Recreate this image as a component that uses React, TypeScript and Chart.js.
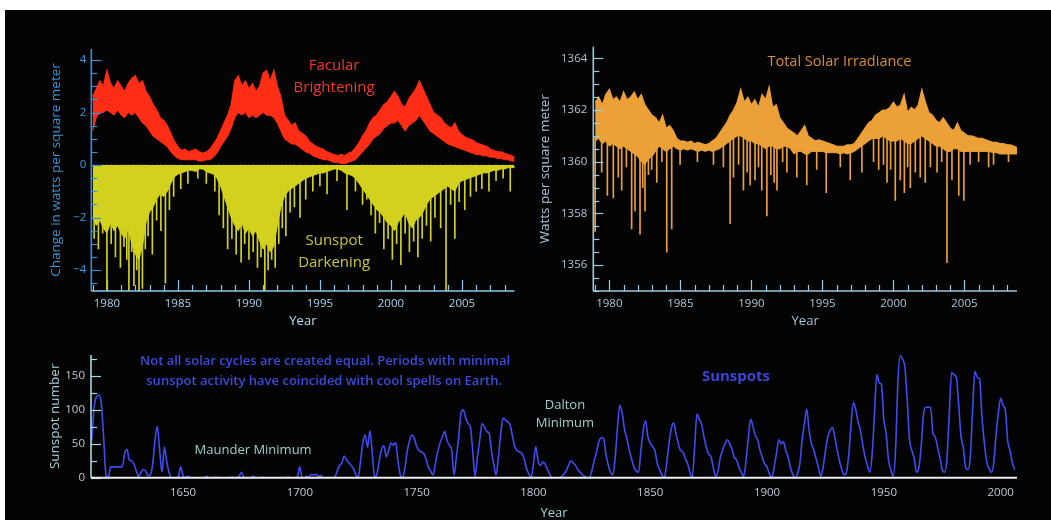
import React, { useEffect, useRef } from 'react';
import { Chart, registerables } from 'chart.js';

Chart.register(...registerables);

const FONT = "'Open Sans', 'DejaVu Sans', sans-serif";

// ---------- top panels: quarter-year samples starting 1979.0 ----------
const QUARTER_START = 1979;
const QUARTER_STEP = 0.25;

// Facular brightening (W/m^2): upper and lower edge of the red band
const facularHigh = [
  2.6, 2.9, 3.2, 3.0,
  3.6, 3.1, 2.9, 3.2,
  3.0, 2.8, 3.1, 3.3,
  3.4, 3.1, 3.2, 2.8,
  2.6, 2.3, 2.1, 1.8,
  1.7, 1.5, 1.2, 0.9,
  0.7, 0.55, 0.6, 0.5,
  0.55, 0.6, 0.5, 0.45,
  0.5, 0.6, 0.8, 1.0,
  1.3, 1.6, 1.9, 2.3,
  3.2, 3.4, 3.0, 3.2,
  2.9, 3.1, 2.8, 3.0,
  3.5, 3.6, 3.2, 3.6,
  3.0, 2.6, 1.9, 1.7,
  1.5, 1.6, 1.3, 1.2,
  1.1, 0.9, 0.8, 0.7,
  0.65, 0.6, 0.5, 0.45,
  0.4, 0.35, 0.4, 0.35,
  0.45, 0.5, 0.65, 0.85,
  1.1, 1.3, 1.6, 1.8,
  1.9, 2.1, 2.3, 2.4,
  2.6, 2.8, 2.6, 2.3,
  2.2, 2.5, 2.7, 2.9,
  3.2, 2.9, 2.6, 2.3,
  2.0, 1.9, 1.8, 1.6,
  1.5, 1.4, 1.6, 1.3,
  1.15, 1.05, 1.0, 0.95,
  0.85, 0.8, 0.75, 0.7,
  0.6, 0.55, 0.5, 0.5,
  0.45, 0.4, 0.35, 0.3,
];
const facularLow = [
  1.3, 1.8, 2.0, 2.0,
  2.1, 2.0, 1.9, 2.1,
  1.9, 1.8, 2.0, 1.9,
  2.0, 1.8, 1.6, 1.5,
  1.3, 1.1, 1.0, 0.9,
  0.8, 0.7, 0.5, 0.35,
  0.25, 0.2, 0.2, 0.2,
  0.2, 0.2, 0.15, 0.15,
  0.2, 0.2, 0.3, 0.45,
  0.7, 0.9, 1.1, 1.4,
  1.8, 2.0, 1.9, 2.0,
  1.8, 1.9, 1.8, 1.9,
  2.0, 1.9, 1.9, 1.8,
  1.6, 1.3, 1.0, 0.9,
  0.8, 0.8, 0.7, 0.6,
  0.5, 0.45, 0.35, 0.3,
  0.25, 0.2, 0.2, 0.15,
  0.1, 0.1, 0.05, 0.05,
  0.1, 0.15, 0.2, 0.35,
  0.5, 0.65, 0.8, 1.0,
  1.1, 1.2, 1.4, 1.5,
  1.6, 1.6, 1.7, 1.5,
  1.3, 1.5, 1.6, 1.7,
  1.9, 1.7, 1.5, 1.3,
  1.2, 1.1, 1.0, 0.9,
  0.8, 0.75, 0.7, 0.65,
  0.6, 0.55, 0.5, 0.45,
  0.4, 0.4, 0.35, 0.35,
  0.3, 0.3, 0.25, 0.25,
  0.2, 0.2, 0.15, 0.15,
];
// Sunspot darkening (W/m^2): depth of the dense yellow body
const darkeningBody = [
  -2.0, -2.3, -2.1, -2.4,
  -2.6, -2.2, -2.5, -2.3,
  -2.6, -2.8, -2.4, -3.0,
  -3.4, -3.6, -3.1, -2.2,
  -1.8, -1.6, -1.3, -1.1,
  -1.2, -1.0, -0.7, -0.45,
  -0.35, -0.3, -0.25, -0.2,
  -0.2, -0.25, -0.15, -0.15,
  -0.25, -0.3, -0.35, -0.5,
  -0.8, -1.2, -1.6, -2.0,
  -2.3, -2.5, -2.2, -2.6,
  -2.4, -2.7, -2.5, -2.9,
  -3.2, -3.0, -3.3, -3.1,
  -2.3, -1.6, -1.2, -1.0,
  -0.9, -0.8, -0.7, -0.6,
  -0.5, -0.45, -0.4, -0.35,
  -0.3, -0.3, -0.25, -0.2,
  -0.15, -0.15, -0.2, -0.3,
  -0.35, -0.4, -0.5, -0.7,
  -0.9, -1.1, -1.3, -1.5,
  -1.7, -1.8, -2.0, -2.2,
  -2.3, -2.5, -2.2, -2.0,
  -1.8, -2.2, -2.4, -2.1,
  -2.0, -1.8, -1.5, -1.3,
  -1.2, -1.1, -1.0, -0.9,
  -0.8, -0.9, -1.0, -0.7,
  -0.6, -0.55, -0.5, -0.45,
  -0.4, -0.35, -0.3, -0.3,
  -0.25, -0.2, -0.2, -0.15,
  -0.15, -0.1, -0.1, -0.1,
];
// Deep individual sunspot-darkening spikes
const darkSpikeYears = [
  1979.1, 1979.4, 1979.7, 1980.0, 1980.3, 1980.6, 1980.95, 1981.2, 1981.4, 1981.55,
  1981.75, 1981.9, 1982.1, 1982.26, 1982.5, 1982.7, 1982.9, 1983.2, 1983.5, 1983.8,
  1984.12, 1984.4, 1984.7, 1985.2, 1985.7, 1986.4, 1987.0, 1987.6, 1987.9, 1988.2,
  1988.5, 1988.8, 1989.1, 1989.45, 1989.7, 1990.0, 1990.3, 1990.6, 1990.85, 1991.12,
  1991.35, 1991.6, 1991.85, 1992.1, 1992.35, 1992.6, 1992.9, 1993.2, 1993.6, 1994.0,
  1994.5, 1995.0, 1995.5, 1996.2, 1996.9, 1997.5, 1998.0, 1998.3, 1998.6, 1998.9,
  1999.2, 1999.5, 1999.8, 2000.1, 2000.4, 2000.7, 2001.0, 2001.3, 2001.6, 2001.9,
  2002.2, 2002.5, 2002.8, 2003.1, 2003.5, 2003.88, 2004.2, 2004.5, 2004.8, 2005.2,
  2005.6, 2006.0, 2006.4, 2006.9, 2007.4, 2007.9, 2008.4,
];
const darkSpikeValues = [
  -2.8, -3.2, -2.6, -4.8, -3.0, -3.5, -3.9, -3.1, -3.6, -4.8,
  -3.3, -4.6, -4.0, -4.8, -4.7, -3.2, -2.7, -3.4, -2.1, -2.5,
  -4.5, -1.7, -1.2, -0.9, -0.7, -0.5, -0.7, -1.0, -1.9, -2.4,
  -3.2, -2.8, -3.4, -3.7, -3.0, -3.6, -3.3, -3.9, -3.5, -4.9,
  -4.0, -3.6, -3.9, -3.0, -2.4, -2.7, -1.8, -1.6, -2.0, -1.3,
  -1.0, -0.8, -1.1, -0.6, -1.7, -1.0, -1.5, -1.3, -1.9, -2.6,
  -2.2, -3.2, -2.8, -3.6, -3.0, -3.8, -2.6, -3.3, -2.9, -3.5,
  -2.8, -2.3, -2.9, -2.0, -2.4, -4.9, -1.5, -2.8, -1.4, -1.7,
  -1.2, -1.0, -0.9, -1.0, -0.6, -0.5, -1.0,
];

// Total solar irradiance (W/m^2): upper and lower edge of the orange band
const tsiHigh = [
  1362.3, 1362.5, 1362.2, 1362.6,
  1362.8, 1362.4, 1362.5, 1362.3,
  1362.7, 1362.4, 1362.5, 1362.7,
  1362.4, 1362.6, 1362.2, 1362.0,
  1361.8, 1361.7, 1361.5, 1361.8,
  1361.3, 1361.4, 1361.2, 1360.9,
  1360.8, 1360.8, 1360.75, 1360.8,
  1360.7, 1360.75, 1360.7, 1360.65,
  1360.7, 1360.8, 1360.9, 1361.1,
  1361.3, 1361.5, 1361.8, 1362.0,
  1362.3, 1362.8, 1362.3, 1362.5,
  1362.2, 1362.4, 1362.1, 1362.6,
  1362.4, 1362.9, 1362.1, 1362.2,
  1361.7, 1361.5, 1361.3, 1361.2,
  1361.1, 1361.0, 1361.2, 1361.4,
  1361.0, 1360.9, 1360.8, 1360.85,
  1360.8, 1360.75, 1360.7, 1360.65,
  1360.6, 1360.6, 1360.6, 1360.65,
  1360.65, 1360.7, 1360.9, 1361.1,
  1361.3, 1361.5, 1361.6, 1361.8,
  1361.9, 1362.0, 1362.0, 1362.1,
  1362.3, 1362.1, 1362.2, 1362.6,
  1361.9, 1362.1, 1362.0, 1362.2,
  1362.8, 1362.3, 1361.9, 1361.8,
  1361.6, 1361.5, 1361.7, 1361.5,
  1361.3, 1361.2, 1361.5, 1361.2,
  1361.1, 1361.0, 1361.0, 1360.95,
  1360.9, 1360.9, 1360.85, 1360.8,
  1360.75, 1360.75, 1360.7, 1360.7,
  1360.65, 1360.65, 1360.6, 1360.55,
];
const tsiLow = [
  1360.8, 1360.9, 1360.7, 1360.8,
  1360.6, 1360.7, 1360.6, 1360.5,
  1360.6, 1360.5, 1360.4, 1360.3,
  1360.2, 1360.0, 1359.9, 1360.1,
  1360.2, 1360.4, 1360.6, 1360.5,
  1360.4, 1360.5, 1360.6, 1360.5,
  1360.45, 1360.5, 1360.45, 1360.5,
  1360.45, 1360.4, 1360.45, 1360.4,
  1360.45, 1360.4, 1360.45, 1360.5,
  1360.6, 1360.7, 1360.8, 1360.9,
  1361.0, 1361.0, 1360.9, 1360.8,
  1360.8, 1360.7, 1360.7, 1360.6,
  1360.5, 1360.6, 1360.6, 1360.5,
  1360.5, 1360.6, 1360.6, 1360.5,
  1360.3, 1360.4, 1360.4, 1360.3,
  1360.3, 1360.4, 1360.4, 1360.4,
  1360.4, 1360.35, 1360.35, 1360.35,
  1360.35, 1360.3, 1360.35, 1360.3,
  1360.35, 1360.4, 1360.5, 1360.6,
  1360.7, 1360.8, 1360.9, 1360.9,
  1360.9, 1361.0, 1360.9, 1360.8,
  1360.8, 1360.8, 1360.9, 1360.8,
  1360.7, 1360.7, 1360.8, 1360.9,
  1361.0, 1360.9, 1360.8, 1360.7,
  1360.6, 1360.6, 1360.5, 1360.4,
  1360.4, 1360.5, 1360.5, 1360.4,
  1360.4, 1360.4, 1360.4, 1360.4,
  1360.4, 1360.4, 1360.4, 1360.4,
  1360.35, 1360.35, 1360.3, 1360.3,
  1360.3, 1360.3, 1360.3, 1360.3,
];
// Downward irradiance dips (each hangs from the band's lower edge)
const tsiSpikeYears = [
  1979.0, 1979.46, 1979.86, 1980.28, 1980.63, 1980.87, 1981.2, 1981.57, 1981.81, 1982.16,
  1982.35, 1982.51, 1982.75, 1982.98, 1983.34, 1983.7, 1984.04, 1984.39, 1984.98, 1986.2,
  1987.33, 1988.03, 1988.5, 1988.74, 1989.1, 1989.44, 1989.7, 1989.91, 1990.26, 1990.5,
  1990.73, 1991.09, 1991.37, 1991.6, 1991.8, 1992.2, 1992.5, 1993.2, 1993.9, 1994.6,
  1995.27, 1996.26, 1996.96, 1997.78, 1998.6, 1998.96, 1999.3, 1999.55, 1999.8, 2000.13,
  2000.48, 2000.77, 2001.0, 2001.19, 2001.54, 2001.89, 2002.24, 2002.6, 2003.07, 2003.4,
  2003.77, 2004.12, 2004.6, 2004.96, 2005.4, 2006.0, 2006.7, 2007.05, 2008.1,
];
const tsiSpikeValues = [
  1357.3, 1359.6, 1358.7, 1358.6, 1359.4, 1358.9, 1359.8, 1357.4, 1358.1, 1357.2,
  1359.0, 1358.1, 1359.5, 1359.7, 1359.2, 1360.0, 1356.5, 1357.4, 1359.9, 1360.0,
  1359.9, 1359.8, 1357.6, 1359.4, 1359.9, 1358.9, 1359.6, 1359.1, 1359.3, 1359.8,
  1358.9, 1357.9, 1359.5, 1359.2, 1358.9, 1360.0, 1359.6, 1359.4, 1359.1, 1359.7,
  1358.8, 1359.8, 1359.3, 1359.6, 1360.0, 1359.7, 1359.9, 1359.2, 1359.7, 1358.5,
  1359.3, 1358.8, 1359.8, 1359.0, 1359.6, 1359.4, 1359.2, 1359.8, 1359.6, 1360.0,
  1356.1, 1359.3, 1358.7, 1358.5, 1359.9, 1360.0, 1359.8, 1359.9, 1360.0,
];

// ---------- bottom panel: yearly sunspot number from 1610 ----------
const SUNSPOT_START = 1610;
const sunspotNumbers = [
  30, 60, 105, 120, 122, 110, 60, 5, 0, 16, // 1610s
  16, 16, 16, 16, 16, 35, 42, 26, 25, 20, // 1620s
  10, 2, 8, 12, 10, 3, 4, 20, 55, 76, // 1630s
  40, 8, 45, 24, 8, 0, 0, 0, 2, 16, // 1640s
  3, 0, 2, 0, 0, 0, 0, 0, 0, 0, // 1650s
  2, 0, 0, 0, 1, 0, 0, 0, 0, 0, // 1660s
  0, 1, 0, 0, 2, 8, 1, 0, 0, 0, // 1670s
  2, 0, 0, 0, 1, 0, 0, 0, 0, 0, // 1680s
  0, 0, 0, 0, 0, 1, 0, 0, 0, 2, // 1690s
  16, 0, 0, 2, 1, 5, 4, 5, 2, 3, // 1700s
  0, 0, 0, 0, 0, 1, 10, 18, 22, 32, // 1710s
  26, 22, 18, 13, 4, 1, 25, 52, 63, 45, // 1720s
  69, 37, 1, 5, 25, 42, 47, 31, 40, 51, // 1730s
  48, 52, 25, 4, 0, 15, 40, 55, 63, 58, // 1740s
  46, 40, 38, 36, 28, 16, 10, 4, 20, 38, // 1750s
  51, 60, 68, 55, 48, 41, 4, 30, 60, 95, // 1760s
  100, 88, 80, 75, 40, 2, 30, 55, 80, 75, // 1770s
  68, 66, 40, 20, 4, 30, 65, 88, 85, 82, // 1780s
  78, 62, 46, 40, 38, 36, 28, 14, 6, 0, // 1790s
  20, 46, 25, 18, 23, 20, 12, 5, 0, 0, // 1800s
  0, 0, 1, 5, 10, 18, 25, 22, 18, 12, // 1810s
  8, 4, 2, 0, 0, 10, 25, 38, 53, 59, // 1820s
  58, 35, 19, 8, 4, 30, 75, 107, 95, 71, // 1830s
  58, 41, 28, 16, 10, 8, 40, 70, 84, 60, // 1840s
  51, 46, 40, 21, 12, 4, 0, 20, 50, 72, // 1850s
  81, 65, 51, 40, 38, 28, 21, 8, 0, 45, // 1860s
  94, 86, 79, 60, 45, 35, 31, 15, 2, 10, // 1870s
  30, 41, 50, 56, 50, 42, 30, 26, 15, 8, // 1880s
  2, 25, 60, 86, 75, 62, 56, 40, 30, 20, // 1890s
  16, 6, 0, 15, 35, 56, 50, 53, 40, 31, // 1900s
  15, 5, 0, 5, 20, 55, 80, 101, 70, 50, // 1910s
  41, 28, 15, 2, 15, 40, 60, 70, 74, 60, // 1920s
  41, 25, 12, 4, 8, 35, 80, 111, 100, 82, // 1930s
  69, 48, 30, 18, 8, 35, 95, 152, 140, 137, // 1940s
  85, 65, 26, 12, 2, 40, 140, 180, 175, 163, // 1950s
  115, 56, 40, 28, 8, 15, 47, 95, 104, 104, // 1960s
  104, 66, 60, 45, 30, 12, 8, 28, 95, 155, // 1970s
  152, 148, 110, 62, 45, 15, 12, 30, 100, 157, // 1980s
  148, 145, 90, 52, 24, 14, 8, 20, 62, 95, // 1990s
  117, 107, 100, 55, 40, 22, 12, // 2000s
];

// ---------- axis ticks ----------
const topXTicks = [1980, 1985, 1990, 1995, 2000, 2005];
const leftYTicks = [-4, -2, 0, 2, 4];
const rightYTicks = [1356, 1358, 1360, 1362, 1364];
const bottomXTicks = [1650, 1700, 1750, 1800, 1850, 1900, 1950, 2000];
const bottomYTicks = [0, 50, 100, 150];

// ---------- text annotations (anchored in data coordinates) ----------
type Note = { text: string; x: number; y: number; color: string; font: string };
const RED_TEXT = '#f03a22';
const YELLOW_TEXT = '#c9c63a';
const leftNotes: Note[] = [
  { text: 'Facular', x: 1996.0, y: 3.77, color: RED_TEXT, font: `15px ${FONT}` },
  { text: 'Brightening', x: 1996.0, y: 2.93, color: RED_TEXT, font: `15px ${FONT}` },
  { text: 'Sunspot', x: 1996.0, y: -2.9, color: YELLOW_TEXT, font: `15px ${FONT}` },
  { text: 'Darkening', x: 1996.0, y: -3.73, color: YELLOW_TEXT, font: `15px ${FONT}` },
];
const rightNotes: Note[] = [
  { text: 'Total Solar Irradiance', x: 1996.2, y: 1363.86, color: '#d98e35', font: `14.5px ${FONT}` },
];
const bottomNotes: Note[] = [
  { text: 'Not all solar cycles are created equal. Periods with minimal', x: 1710.8, y: 171, color: '#3b4bdc', font: `600 13px ${FONT}` },
  { text: 'sunspot activity have coincided with cool spells on Earth.', x: 1710.4, y: 141.6, color: '#3b4bdc', font: `600 13px ${FONT}` },
  { text: 'Maunder Minimum', x: 1680, y: 41, color: '#9ccfd0', font: `13px ${FONT}` },
  { text: 'Dalton', x: 1813.5, y: 106.6, color: '#9ccfd0', font: `13px ${FONT}` },
  { text: 'Minimum', x: 1813.5, y: 79.6, color: '#9ccfd0', font: `13px ${FONT}` },
  { text: 'Sunspots', x: 1886.7, y: 148.5, color: '#3a46d8', font: `bold 15px ${FONT}` },
];

const RED = '#ff2d16';
const YELLOW = '#d2d21e';
const ORANGE = '#eca038';
const BLUE_LINE = '#3f4cf2';

type Decor = {
  yColor: string;
  xColor: string;
  yWidth: number;
  xWidth: number;
  yMinorStep: number;
  yMajorEvery: number;
  xMinorStep: number; // 0 = no x ticks
  xMajorEvery: number;
  notes: Note[];
};

const isMultiple = (v: number, m: number) => Math.abs(v / m - Math.round(v / m)) < 1e-6;

function makeDecor(d: Decor) {
  return {
    id: 'decor',
    afterDraw(chart: any) {
      const { ctx, chartArea: a, scales } = chart;
      const xs = scales.x;
      const ys = scales.y;
      ctx.save();
      // y axis line + inward ticks
      ctx.strokeStyle = d.yColor;
      ctx.lineWidth = d.yWidth;
      ctx.beginPath();
      ctx.moveTo(a.left, a.top);
      ctx.lineTo(a.left, a.bottom);
      ctx.stroke();
      ctx.lineWidth = 1.2;
      const y0 = Math.ceil(ys.min / d.yMinorStep - 1e-9) * d.yMinorStep;
      for (let v = y0; v <= ys.max + 1e-9; v += d.yMinorStep) {
        const py = Math.round(ys.getPixelForValue(v)) + 0.5;
        const len = isMultiple(v, d.yMajorEvery) ? 10 : 6;
        ctx.beginPath();
        ctx.moveTo(a.left, py);
        ctx.lineTo(a.left + len, py);
        ctx.stroke();
      }
      // x axis line + inward ticks
      ctx.strokeStyle = d.xColor;
      ctx.lineWidth = d.xWidth;
      ctx.beginPath();
      ctx.moveTo(a.left, a.bottom);
      ctx.lineTo(a.right, a.bottom);
      ctx.stroke();
      if (d.xMinorStep > 0) {
        ctx.lineWidth = 1.2;
        const x0 = Math.ceil(xs.min / d.xMinorStep - 1e-9) * d.xMinorStep;
        for (let v = x0; v <= xs.max + 1e-9; v += d.xMinorStep) {
          const px = Math.round(xs.getPixelForValue(v)) + 0.5;
          const len = isMultiple(v, d.xMajorEvery) ? 11 : 6;
          ctx.beginPath();
          ctx.moveTo(px, a.bottom);
          ctx.lineTo(px, a.bottom - len);
          ctx.stroke();
        }
      }
      // annotations
      ctx.textAlign = 'center';
      ctx.textBaseline = 'middle';
      for (const n of d.notes) {
        ctx.font = n.font;
        ctx.fillStyle = n.color;
        ctx.fillText(n.text, xs.getPixelForValue(n.x), ys.getPixelForValue(n.y));
      }
      ctx.restore();
    },
  };
}

type AxisOpts = {
  xMin: number; xMax: number; yMin: number; yMax: number;
  xTicks: number[]; yTicks: number[];
  yTitle: string; yWidth: number; xHeight: number; xPad: number; yPad: number;
  xTickColor: string; yTickColor: string; xTitleColor: string; yTitleColor: string;
  yFmt: (v: number) => string;
};

function axes(o: AxisOpts) {
  return {
    x: {
      type: 'linear', min: o.xMin, max: o.xMax, offset: false,
      grid: { display: false, drawTicks: false },
      border: { display: false },
      afterBuildTicks: (s: any) => { s.ticks = o.xTicks.map((v) => ({ value: v })); },
      afterFit: (s: any) => { s.height = o.xHeight; },
      ticks: {
        autoSkip: false, maxRotation: 0, minRotation: 0, padding: o.xPad,
        color: o.xTickColor, font: { family: FONT, size: 11.5 },
        callback: (v: any) => String(v),
      },
      title: { display: true, text: 'Year', color: o.xTitleColor, font: { family: FONT, size: 13 }, padding: 0 },
    },
    y: {
      type: 'linear', min: o.yMin, max: o.yMax,
      grid: { display: false, drawTicks: false },
      border: { display: false },
      afterBuildTicks: (s: any) => { s.ticks = o.yTicks.map((v) => ({ value: v })); },
      afterFit: (s: any) => { s.width = o.yWidth; },
      ticks: {
        autoSkip: false, padding: o.yPad,
        color: o.yTickColor, font: { family: FONT, size: 11.5 },
        callback: (v: any) => o.yFmt(Number(v)),
      },
      title: { display: true, text: o.yTitle, color: o.yTitleColor, font: { family: FONT, size: 13.5 }, padding: 0 },
    },
  };
}

const quarterYears = facularHigh.map((_, i) => QUARTER_START + i * QUARTER_STEP);
const onQuarters = (vals: number[]) => vals.map((y, i) => ({ x: quarterYears[i], y }));
const sunspotYears = sunspotNumbers.map((_, i) => SUNSPOT_START + i);
// lower edge of the TSI band at the quarter nearest a given year
const tsiLowAt = (year: number) => {
  const i = Math.min(tsiLow.length - 1, Math.max(0, Math.round((year - QUARTER_START) / QUARTER_STEP)));
  return tsiLow[i];
};

const common = {
  responsive: false,
  animation: false,
  devicePixelRatio: 1,
  events: [],
  plugins: { legend: { display: false }, tooltip: { enabled: false } },
};

function leftConfig(): any {
  return {
    type: 'line',
    data: {
      datasets: [
        { type: 'line', data: onQuarters(facularHigh), borderColor: RED, backgroundColor: RED, borderWidth: 1.2, fill: '+1', pointRadius: 0, tension: 0 },
        { type: 'line', data: onQuarters(facularLow), borderColor: RED, borderWidth: 1, fill: false, pointRadius: 0, tension: 0 },
        { type: 'line', data: onQuarters(darkeningBody), borderColor: YELLOW, backgroundColor: YELLOW, borderWidth: 1, fill: 'origin', pointRadius: 0, tension: 0 },
        {
          type: 'bar',
          data: darkSpikeYears.map((x, i) => ({ x, y: [0, darkSpikeValues[i]] })),
          backgroundColor: YELLOW, borderWidth: 0, barThickness: 1, grouped: false,
        },
      ],
    },
    options: {
      ...common,
      layout: { padding: { left: 0, top: 19, right: 5.5, bottom: 0 } },
      scales: axes({
        xMin: 1978.9, xMax: 2008.7, yMin: -4.8, yMax: 4.42,
        xTicks: topXTicks, yTicks: leftYTicks,
        yTitle: 'Change in watts per square meter', yWidth: 43.3, xHeight: 38, xPad: 6, yPad: 5,
        xTickColor: '#a9d6ef', yTickColor: '#3d9be6', xTitleColor: '#b8dcef', yTitleColor: '#3a95d6',
        yFmt: (v) => (v < 0 ? '\u2212' + Math.abs(v) : String(v)),
      }),
    },
    plugins: [makeDecor({
      yColor: '#3a8fd8', xColor: '#8cc8ec', yWidth: 1.6, xWidth: 1.6,
      yMinorStep: 0.5, yMajorEvery: 2, xMinorStep: 1, xMajorEvery: 5, notes: leftNotes,
    })],
  };
}

function rightConfig(): any {
  return {
    type: 'line',
    data: {
      datasets: [
        { type: 'line', data: onQuarters(tsiHigh), borderColor: ORANGE, backgroundColor: ORANGE, borderWidth: 1.2, fill: '+1', pointRadius: 0, tension: 0 },
        { type: 'line', data: onQuarters(tsiLow), borderColor: ORANGE, borderWidth: 1, fill: false, pointRadius: 0, tension: 0 },
        {
          type: 'bar',
          data: tsiSpikeYears.map((x, i) => ({ x, y: [tsiSpikeValues[i], tsiLowAt(x) + 0.15] })),
          backgroundColor: ORANGE, borderWidth: 0, barThickness: 1, grouped: false,
        },
      ],
    },
    options: {
      ...common,
      layout: { padding: { left: 0, top: 16.7, right: 5, bottom: 0 } },
      scales: axes({
        xMin: 1978.87, xMax: 2008.7, yMin: 1355.0, yMax: 1364.45,
        xTicks: topXTicks, yTicks: rightYTicks,
        yTitle: 'Watts per square meter', yWidth: 56.3, xHeight: 38, xPad: 6, yPad: 6,
        xTickColor: '#aec6d8', yTickColor: '#aec6d8', xTitleColor: '#a8c6da', yTitleColor: '#a8c6da',
        yFmt: (v) => String(v),
      }),
    },
    plugins: [makeDecor({
      yColor: '#9cc8e0', xColor: '#9cc8e0', yWidth: 1.6, xWidth: 1.6,
      yMinorStep: 0.5, yMajorEvery: 2, xMinorStep: 1, xMajorEvery: 5, notes: rightNotes,
    })],
  };
}

function bottomConfig(): any {
  return {
    type: 'line',
    data: {
      datasets: [
        {
          type: 'line',
          data: sunspotNumbers.map((y, i) => ({ x: sunspotYears[i], y })),
          borderColor: BLUE_LINE, borderWidth: 1.6, fill: false, pointRadius: 0,
          cubicInterpolationMode: 'monotone',
        },
      ],
    },
    options: {
      ...common,
      layout: { padding: { left: 0, top: 15, right: 5, bottom: 0 } },
      scales: axes({
        xMin: 1610.6, xMax: 2007, yMin: 0, yMax: 181,
        xTicks: bottomXTicks, yTicks: bottomYTicks,
        yTitle: 'Sunspot number', yWidth: 44, xHeight: 43.3, xPad: 8, yPad: 6,
        xTickColor: '#c0ccd6', yTickColor: '#b9c9d4', xTitleColor: '#a9d2d6', yTitleColor: '#a9d2d6',
        yFmt: (v) => String(v),
      }),
    },
    plugins: [makeDecor({
      yColor: '#a8d8e0', xColor: '#e8eef0', yWidth: 1.6, xWidth: 2,
      yMinorStep: 25, yMajorEvery: 50, xMinorStep: 0, xMajorEvery: 50, notes: bottomNotes,
    })],
  };
}

export default function App() {
  const c1 = useRef<HTMLCanvasElement>(null);
  const c2 = useRef<HTMLCanvasElement>(null);
  const c3 = useRef<HTMLCanvasElement>(null);

  useEffect(() => {
    Chart.defaults.font.family = FONT;
    const charts = [
      new Chart(c1.current as HTMLCanvasElement, leftConfig()),
      new Chart(c2.current as HTMLCanvasElement, rightConfig()),
      new Chart(c3.current as HTMLCanvasElement, bottomConfig()),
    ];
    return () => charts.forEach((c) => c.destroy());
  }, []);

  const abs = (left: number, top: number): React.CSSProperties => ({ position: 'absolute', left, top, display: 'block' });

  return (
    <div style={{ position: 'fixed', left: 0, top: 0, width: 1051, height: 520, background: '#ffffff', overflow: 'hidden' }}>
      <div style={{ position: 'absolute', left: 5, top: 10, width: 1046, height: 510, background: '#030303' }} />
      <canvas ref={c1} width={472} height={299} style={abs(48, 30)} />
      <canvas ref={c2} width={485} height={299} style={abs(537, 30)} />
      <canvas ref={c3} width={975} height={181} style={abs(47, 340)} />
    </div>
  );
}
